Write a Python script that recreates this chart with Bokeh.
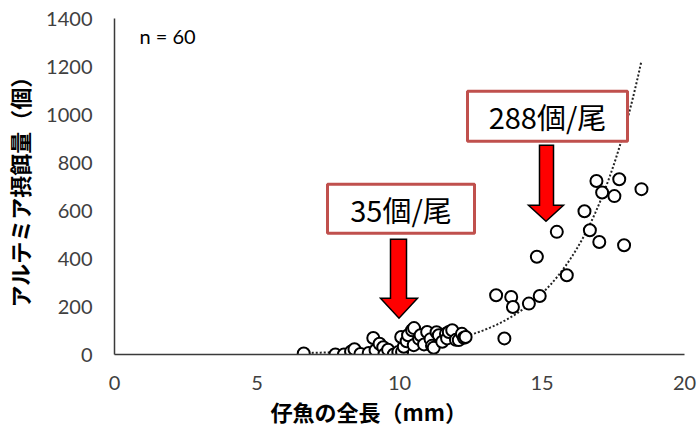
import numpy as np
from bokeh.plotting import figure
from bokeh.models import Range1d, Label, ColumnDataSource, FixedTicker, Title
from bokeh.embed import file_html
from bokeh.resources import INLINE

# ---- data ----
length_mm = [6.64, 7.75, 8.05, 8.30, 8.42, 8.63, 8.92,
             9.08, 9.16, 9.30, 9.43, 9.47, 9.60, 9.80, 9.96, 10.09, 10.15, 10.06, 10.25,
             10.30, 10.44, 10.51, 10.50, 10.69, 10.74, 10.86, 10.97, 11.09, 11.14, 11.20,
             11.30, 11.38, 11.50, 11.63, 11.67, 11.73, 11.85, 11.98, 12.08, 12.19, 12.26, 12.32,
             13.39, 13.68, 13.92, 13.98, 14.54, 14.92, 14.82, 15.52, 15.87,
             16.49, 16.68, 16.91, 17.01, 17.11, 17.54, 17.71, 17.88, 18.49]
artemia = [4, 0, 0, 12, 22, 2, 6,
           69, 18, 45, 30, 0, 20, 0, 10, 11, 32, 73, 55,
           80, 101, 110, 39, 65, 80, 42, 94, 64, 36, 28,
           93, 80, 53, 86, 67, 94, 101, 61, 60, 86, 70, 73,
           247, 67, 240, 198, 212, 244, 407, 511, 330,
           597, 518, 723, 469, 675, 660, 730, 455, 689]

# exponential trendline y = a * exp(b * x)
trend_a = 0.298
trend_b = 0.45

x_ticks = [0, 5, 10, 15, 20]
y_ticks = [0, 200, 400, 600, 800, 1000, 1200, 1400]

ann_texts = ["35個/尾", "288個/尾"]
n_text = "n = 60"
x_title = "仔魚の全長（mm）"
y_title = "アルテミア摂餌量（個）"

JP = "Noto Sans CJK JP"
NUM = "Lato"

p = figure(width=698, height=435, output_backend="svg", toolbar_location=None,
           x_range=Range1d(0, 20), y_range=Range1d(0, 1400),
           min_border_left=114, min_border_right=14, min_border_top=18, min_border_bottom=81)
p.outline_line_color = None
p.grid.visible = False
p.background_fill_color = "white"

for ax in (p.xaxis[0], p.yaxis[0]):
    ax.axis_line_color = "#3a3a3a"
    ax.axis_line_width = 1.5
    ax.major_tick_line_color = None
    ax.minor_tick_line_color = None
    ax.major_tick_out = 0
    ax.major_tick_in = 0
    ax.minor_tick_out = 0
    ax.minor_tick_in = 0
    ax.major_label_text_font = NUM
    ax.major_label_text_font_size = "20px"
    ax.major_label_text_color = "#404040"
p.xaxis[0].major_label_standoff = 21
p.yaxis[0].major_label_standoff = 22
p.xaxis[0].ticker = FixedTicker(ticks=x_ticks)
p.yaxis[0].ticker = FixedTicker(ticks=y_ticks)

p.yaxis[0].axis_label = y_title
p.yaxis[0].axis_label_text_font = JP
p.yaxis[0].axis_label_text_font_style = "bold"
p.yaxis[0].axis_label_text_font_size = "22px"
p.yaxis[0].axis_label_text_color = "black"
p.yaxis[0].axis_label_standoff = 8

p.add_layout(Title(text=x_title, align="left", offset=156, standoff=0,
                   text_font=JP, text_font_style="bold", text_font_size="22px",
                   text_color="black"), "below")

# trendline
tx = np.linspace(min(length_mm), max(length_mm), 300)
ty = trend_a * np.exp(trend_b * tx)
p.line(tx, ty, line_color="#222222", line_width=2, line_dash="2 2")

src = ColumnDataSource(dict(x=length_mm, y=artemia))
p.scatter("x", "y", source=src, marker="circle", size=12, fill_color="white",
          line_color="black", line_width=2)

# annotation boxes
box_l = [7.474, 12.386]
box_r = [12.632, 18.0]
box_t = [709.6, 1097.0]
box_b = [505.4, 888.8]
p.quad(left=box_l, right=box_r, top=box_t, bottom=box_b, fill_color="white",
       line_color="#C0504D", line_width=3)
for i in range(2):
    p.add_layout(Label(x=(box_l[i] + box_r[i]) / 2, y=(box_t[i] + box_b[i]) / 2,
                       text=ann_texts[i], text_font=JP, text_font_size="29px",
                       text_align="center", text_baseline="middle", text_color="black"))

# arrows (shaft + head)
def arrow(sl, sr, hl, hr, top, base, tip):
    c = (hl + hr) / 2
    xs = [sl, sr, sr, hr, c, hl, sl]
    ys = [top, top, base, base, tip, base, base]
    return xs, ys

a1 = arrow(9.684, 10.246, 9.333, 10.632, 480.4, 234.6, 151.3)
a2 = arrow(14.912, 15.404, 14.526, 15.754, 872.0, 622.0, 555.0)
p.patches([a1[0], a2[0]], [a1[1], a2[1]], fill_color="#FF0000", line_color="black",
          line_width=1.5, line_join="miter")

p.add_layout(Label(x=0.877, y=1326, text=n_text, text_font=NUM, text_font_size="20px",
                   text_align="left", text_baseline="middle", text_color="black"))

open("out.html", "w").write(file_html(p, INLINE))
